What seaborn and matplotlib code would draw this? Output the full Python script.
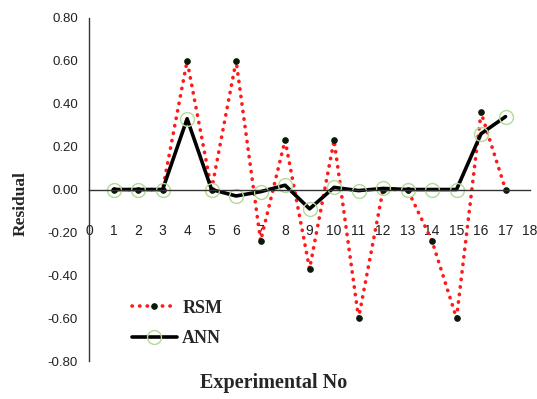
import matplotlib
matplotlib.use("Agg")
import matplotlib.pyplot as plt
import seaborn as sns
import pandas as pd

experiments = list(range(1, 18))
rsm = [0.0, 0.0, 0.0, 0.60, 0.0, 0.60, -0.24, 0.23, -0.37, 0.23, -0.60, 0.0, 0.0, -0.24, -0.60, 0.36, 0.0]
ann = [0.0, 0.0, 0.0, 0.33, 0.0, -0.03, -0.01, 0.02, -0.09, 0.01, -0.005, 0.005, 0.0, 0.0, 0.0, 0.26, 0.34]
x_ticks = list(range(0, 19))
y_ticks = [-0.8, -0.6, -0.4, -0.2, 0.0, 0.2, 0.4, 0.6, 0.8]

sns.set_style("white")
fig = plt.figure(figsize=(5.37, 3.99), dpi=100)
ax = fig.add_axes([0.166, 0.095, 0.821, 0.86])

df = pd.DataFrame({"x": experiments, "RSM": rsm, "ANN": ann})
sns.lineplot(data=df, x="x", y="RSM", ax=ax, color="#ff1a1a", linestyle=(0, (0.1, 2.0)),
             dash_capstyle="round", linewidth=2.6, marker="o", markersize=4,
             markerfacecolor="#0a1a0a", markeredgecolor="#0a1a0a", label="RSM")
sns.lineplot(data=df, x="x", y="ANN", ax=ax, color="black", linestyle="-",
             linewidth=2.6, marker="o", markersize=10, markerfacecolor="none",
             markeredgecolor="#b2da98", markeredgewidth=1.0, label="ANN")

ax.set_xlim(0, 18)
ax.set_ylim(-0.8, 0.8)
ax.set_xticks(x_ticks)
ax.set_xticklabels([str(t) for t in x_ticks])
ax.set_yticks(y_ticks)
ax.set_yticklabels([f"{t:.2f}" for t in y_ticks])

for s in ["top", "right"]:
    ax.spines[s].set_visible(False)
ax.spines["bottom"].set_position(("data", 0))
ax.spines["left"].set_color("#333333")
ax.spines["bottom"].set_color("#333333")
ax.spines["left"].set_linewidth(1.0)
ax.spines["bottom"].set_linewidth(1.0)

ax.tick_params(axis="x", direction="out", length=5, width=1, color="#333333",
               pad=20, labelsize=10, labelcolor="#222222")
ax.tick_params(axis="y", direction="out", length=5, width=1, color="#333333",
               pad=3, labelsize=9.5, labelcolor="#222222")
for lab in ax.get_xticklabels() + ax.get_yticklabels():
    lab.set_family(["Liberation Sans", "DejaVu Sans"])

ax.set_xlabel("")
ax.set_ylabel("")
fig.text(0.51, 0.04, "Experimental No", ha="center", va="center",
         family="Liberation Serif", fontweight="bold", fontsize=14.5)
fig.text(0.038, 0.49, "Residual", ha="center", va="center", rotation=90,
         family="Liberation Serif", fontweight="bold", fontsize=12.5)

leg = ax.legend(loc="upper left", bbox_to_anchor=(0.215, 0.29), bbox_transform=fig.transFigure,
                frameon=False, prop={"family": "Liberation Serif", "weight": "bold", "size": 13},
                handlelength=2.5, handletextpad=0.3, labelspacing=0.75)

fig.savefig("out.png", dpi=100)
